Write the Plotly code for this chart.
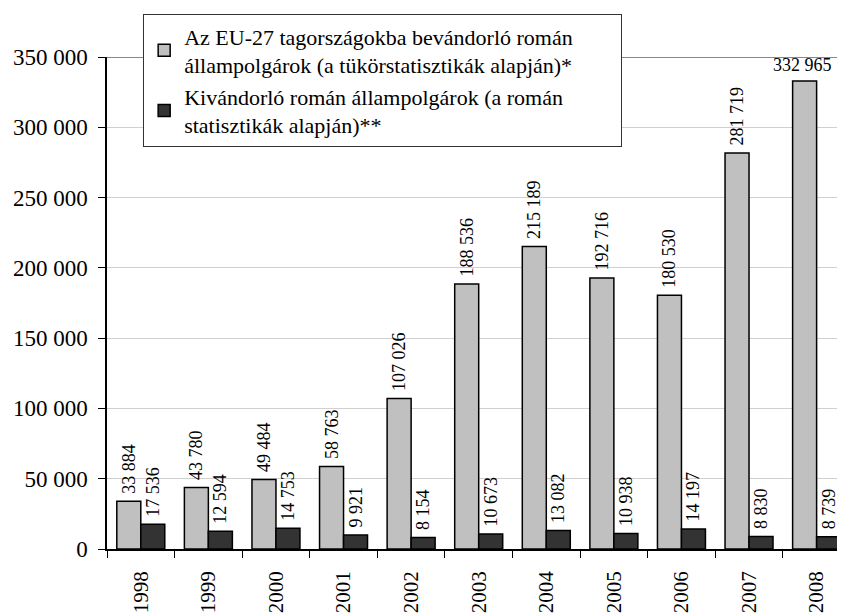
import plotly.graph_objects as go

years = ["1998", "1999", "2000", "2001", "2002", "2003", "2004", "2005", "2006", "2007", "2008"]
eu_immigrants = [33884, 43780, 49484, 58763, 107026, 188536, 215189, 192716, 180530, 281719, 332965]
ro_emigrants = [17536, 12594, 14753, 9921, 8154, 10673, 13082, 10938, 14197, 8830, 8739]
NB = "\u00a0"
name_eu = "Az EU-27 tagországokba bevándorló román<br>állampolgárok (a tükörstatisztikák alapján)*" + NB * 8
name_ro = "Kivándorló román állampolgárok (a román<br>statisztikák alapján)**"
Y_MAX = 350000
Y_TICKS = [0, 50000, 100000, 150000, 200000, 250000, 300000, 350000]

def fmt(v):
    return f"{v:,}".replace(",", " ")

FONT = '"Liberation Serif", "Times New Roman", Times, serif'

eu_text = [NB + fmt(v) for v in eu_immigrants[:-1]] + [""]
ro_text = [NB + fmt(v) for v in ro_emigrants]

fig = go.Figure()
fig.add_trace(go.Bar(
    x=years, y=eu_immigrants, name=name_eu,
    marker=dict(color="#c0c0c0", line=dict(color="black", width=1.5)),
    text=eu_text, textposition="outside", textangle=-90,
    textfont=dict(size=18, color="black", family=FONT),
    constraintext="none", cliponaxis=False,
))
fig.add_trace(go.Bar(
    x=years, y=ro_emigrants, name=name_ro,
    marker=dict(color="#333333", line=dict(color="black", width=1.5)),
    text=ro_text, textposition="outside", textangle=-90,
    textfont=dict(size=18, color="black", family=FONT),
    constraintext="none", cliponaxis=False,
))

fig.add_annotation(
    x=len(years) - 1, y=eu_immigrants[-1], text=fmt(eu_immigrants[-1]),
    showarrow=False, yanchor="bottom", xanchor="center", xshift=-14, yshift=4,
    font=dict(size=18, color="black", family=FONT),
)

fig.add_shape(type="line", xref="paper", x0=0, x1=1, yref="y", y0=Y_MAX, y1=Y_MAX,
              line=dict(color="#888888", width=2), layer="below")

fig.update_layout(
    width=845, height=614,
    margin=dict(l=99, r=8, t=49, b=73, autoexpand=False),
    paper_bgcolor="white", plot_bgcolor="white",
    barmode="group", bargap=0.29, bargroupgap=0,
    font=dict(family=FONT, size=20, color="black"),
    showlegend=True,
    legend=dict(
        x=0.049, y=1.087, xanchor="left", yanchor="top",
        bgcolor="white", bordercolor="#333333", borderwidth=1,
        font=dict(size=22, family=FONT),
        tracegroupgap=0,
    ),
    xaxis=dict(
        type="category",
        range=[-0.5, 10.42], tickangle=-90, tickson="boundaries",
        ticks="outside", ticklen=7, tickcolor="black",
        showline=True, linecolor="black", linewidth=1.5,
        tickfont=dict(size=21, family=FONT), automargin=False,
        ticklabelstandoff=12,
    ),
    yaxis=dict(
        range=[0, Y_MAX], tickvals=Y_TICKS, ticktext=[fmt(v) for v in Y_TICKS],
        ticks="outside", ticklen=7, tickcolor="black",
        showline=True, linecolor="black", linewidth=1.5,
        showgrid=True, gridcolor="#d0d0d0", gridwidth=1,
        zeroline=False, automargin=False,
        tickfont=dict(size=23, family=FONT),
        ticklabelstandoff=6,
    ),
)

fig.write_html("out.html")
